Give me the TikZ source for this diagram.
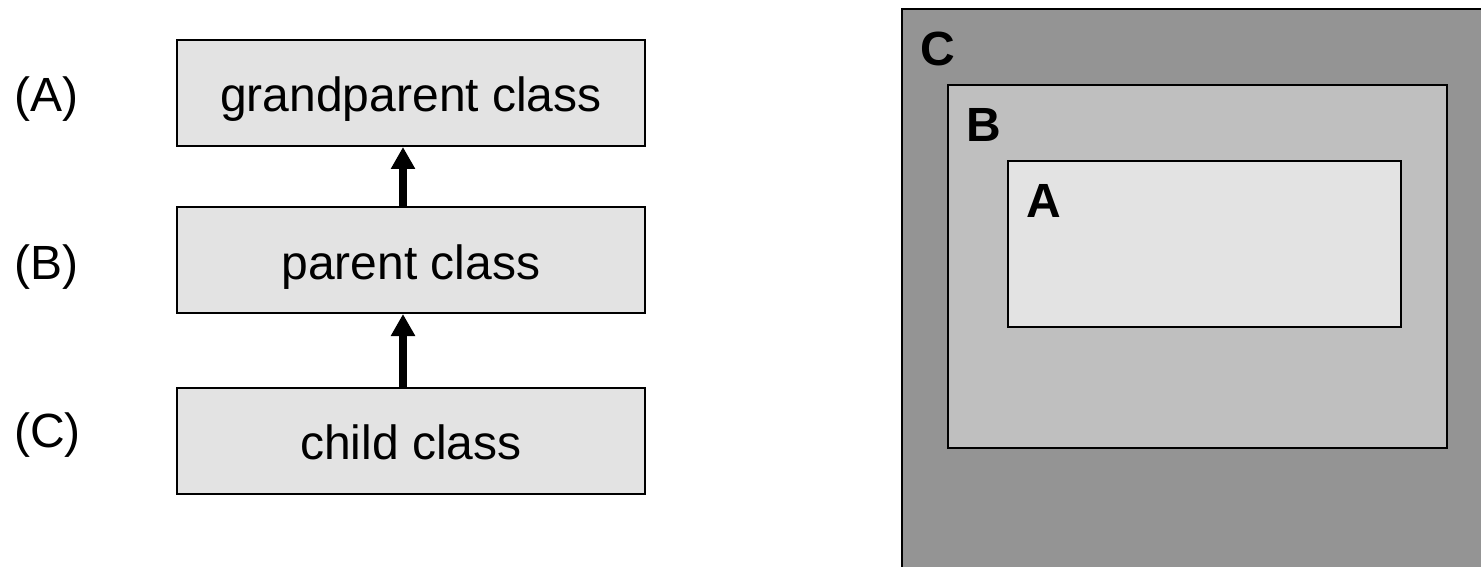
\documentclass[tikz,border=0pt]{standalone}
\usepackage{fontspec}
\setmainfont{Liberation Sans}
\usetikzlibrary{arrows.meta}
\definecolor{lightbox}{RGB}{227,227,227}
\definecolor{midbox}{RGB}{191,191,191}
\definecolor{darkbox}{RGB}{148,148,148}
\begin{document}
\begin{tikzpicture}[x=1pt,y=1pt,>={Triangle[width=23pt,length=22pt]}, font=\fontsize{48}{58}\selectfont, line join=miter,
	classbox/.style={draw=black,line width=2pt,fill=lightbox,minimum width=468pt,minimum height=106pt,inner sep=0pt,text height=38pt,text depth=0pt},
	nestbox/.style={draw=black,line width=2pt,inner sep=0pt},
	nestlabel/.style={anchor=north west,inner sep=0pt,font=\fontsize{48}{58}\selectfont\bfseries},
	inherit/.style={->,line width=8pt}]
\useasboundingbox (0,0) rectangle (1481,566);
\path
(411,473)coordinate(GP)
(411,306)coordinate(P)
(411,125.5)coordinate(CH)
(14,454)coordinate(LA)
(14,287)coordinate(LB)
(14,119)coordinate(LC)
;
% class hierarchy
\node[classbox] (gp) at (GP) {grandparent class};
\node[classbox] (parent) at (P) {parent class};
\node[classbox] (child) at (CH) {child class};
\foreach \x/\t in {LA/A,LB/B,LC/C} \node[anchor=base west,inner sep=0pt] (lab\t) at (\x) {(\t)};
\draw[inherit] ([xshift=-8pt]child.north) -- ([xshift=-8pt]parent.south);
\draw[inherit] ([xshift=-8pt]parent.north) -- ([xshift=-8pt]gp.south);
% nested scopes
\node[nestbox,fill=darkbox,minimum width=598pt,minimum height=577pt] (C) at (1201,268.5) {};
\node[nestbox,fill=midbox,minimum width=499pt,minimum height=363pt] (B) at (1197.5,299.5) {};
\node[nestbox,fill=lightbox,minimum width=393pt,minimum height=166pt] (A) at (1204.5,322) {};
\foreach \b in {C,B,A} \node[nestlabel] (name\b) at ([shift={(19pt,-24pt)}]\b.north west) {\b};
\end{tikzpicture}
\end{document}
